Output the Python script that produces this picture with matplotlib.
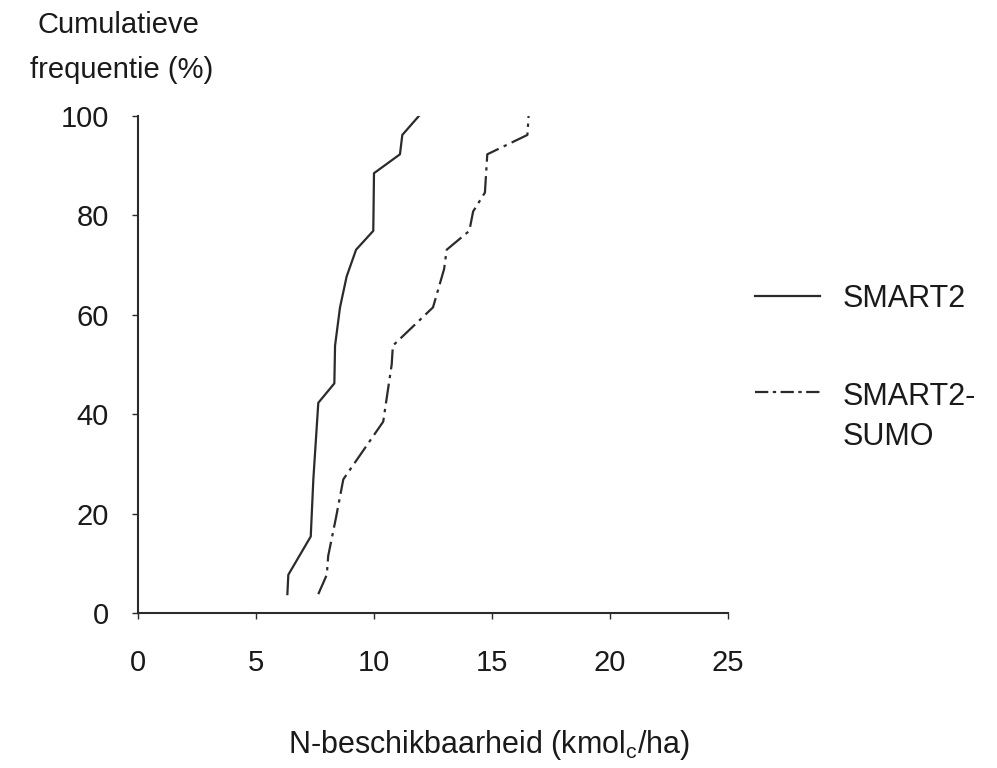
import matplotlib.pyplot as plt
from matplotlib.lines import Line2D

plt.rcParams['font.family'] = ['Liberation Sans', 'DejaVu Sans']
plt.rcParams['mathtext.fontset'] = 'custom'
plt.rcParams['mathtext.rm'] = 'Liberation Sans'
plt.rcParams['mathtext.it'] = 'Liberation Sans:italic'

# cumulative frequency (%) against N availability (kmolc/ha)
smart2_x = [6.33, 6.37, 7.32, 7.43, 7.64, 8.32, 8.35, 8.56, 8.84, 9.24, 9.97, 10.0, 11.1, 11.2, 11.9]
smart2_y = [3.8, 7.7, 15.4, 26.9, 42.3, 46.2, 53.8, 61.5, 67.7, 73.1, 76.9, 88.5, 92.3, 96.2, 100]

sumo_x = [7.64, 8.0, 8.06, 8.39, 8.70, 10.39, 10.75, 10.8, 12.5, 12.97, 13.08, 14.04, 14.2, 14.7, 14.8, 16.5, 16.55]
sumo_y = [3.8, 7.7, 11.5, 19.2, 26.9, 38.5, 50.0, 53.8, 61.5, 69.2, 73.1, 76.9, 80.8, 84.6, 92.3, 96.2, 100]

x_ticks = [0, 5, 10, 15, 20, 25]
y_ticks = [0, 20, 40, 60, 80, 100]

line_col = '#2b2b2b'
dashdot = (0, (9, 2.5, 1.5, 2.5))

fig = plt.figure(figsize=(9.97, 7.68), dpi=100)
ax = fig.add_axes([0.1384, 0.2018, 0.5918, 0.6471])

ax.plot(smart2_x, smart2_y, color=line_col, lw=1.6)
ax.plot(sumo_x, sumo_y, color=line_col, lw=1.6, linestyle=dashdot)

ax.set_xlim(0, 25)
ax.set_ylim(0, 100)
ax.set_xticks(x_ticks)
ax.set_yticks(y_ticks)
ax.spines['top'].set_visible(False)
ax.spines['right'].set_visible(False)
for s in ['left', 'bottom']:
    ax.spines[s].set_linewidth(1.5)
    ax.spines[s].set_color(line_col)
ax.tick_params(axis='x', length=4, width=1, color=line_col, pad=22, labelsize=21, labelcolor='#1a1a1a')
ax.tick_params(axis='y', length=4, width=1, color=line_col, pad=17, labelsize=21, labelcolor='#1a1a1a')

fig.text(0.119, 0.967, 'Cumulatieve', ha='center', va='center', fontsize=21, color='#1a1a1a')
fig.text(0.122, 0.909, 'frequentie (%)', ha='center', va='center', fontsize=21, color='#1a1a1a')
fig.text(0.49, 0.030, r'N-beschikbaarheid (kmol$_{\mathrm{c}}$/ha)', ha='center', va='center',
         fontsize=22, color='#1a1a1a')

# legend drawn by hand so the handle sits on the first text line
fig.add_artist(Line2D([755 / 997, 820 / 997], [1 - 296 / 768] * 2, color=line_col, lw=1.6))
fig.text(843 / 997, 1 - 299 / 768, 'SMART2', ha='left', va='center', fontsize=22, color='#1a1a1a')
fig.add_artist(Line2D([755 / 997, 820 / 997], [1 - 392 / 768] * 2, color=line_col, lw=1.6,
                      linestyle=(0, (6, 2, 1.5, 2))))
fig.text(843 / 997, 1 - 397 / 768, 'SMART2-', ha='left', va='center', fontsize=22, color='#1a1a1a')
fig.text(843 / 997, 1 - 437 / 768, 'SUMO', ha='left', va='center', fontsize=22, color='#1a1a1a')

fig.savefig('out.png', dpi=100)
